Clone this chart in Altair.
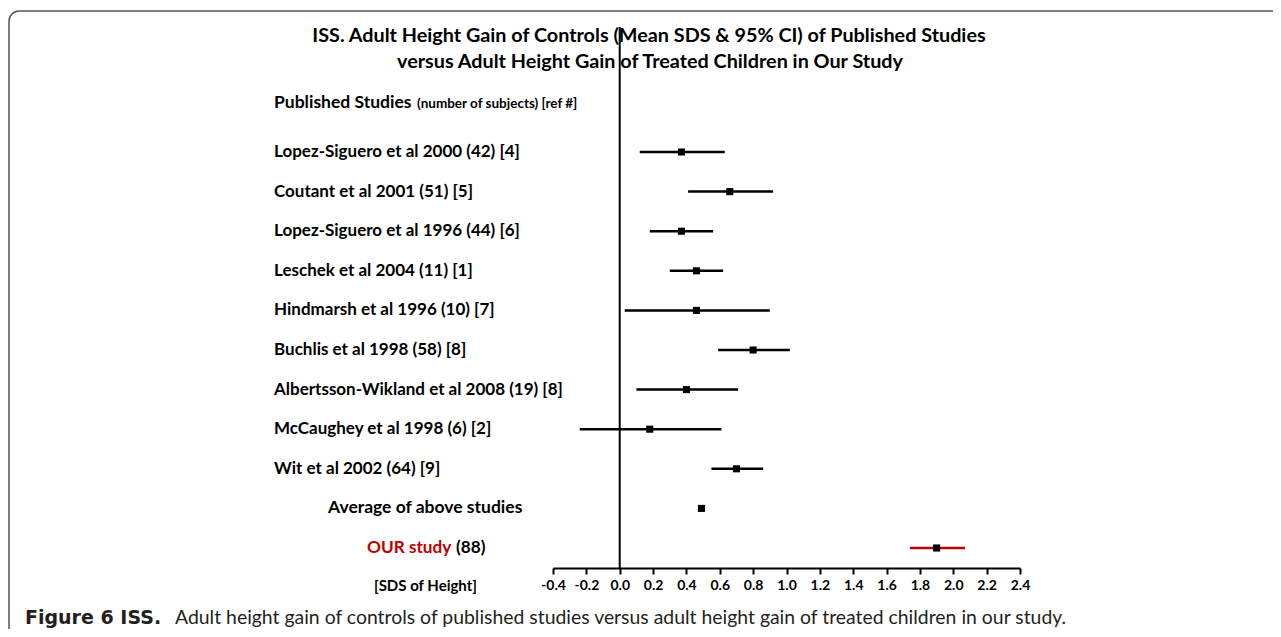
import altair as alt
import pandas as pd

# ---------------- data ----------------
studies = [
    "Lopez-Siguero et al 2000",
    "Coutant et al 2001",
    "Lopez-Siguero et al 1996",
    "Leschek et al 2004",
    "Hindmarsh et al 1996",
    "Buchlis et al 1998",
    "Albertsson-Wikland et al 2008",
    "McCaughey et al 1998",
    "Wit et al 2002",
]
n_subjects = [42, 51, 44, 11, 10, 58, 19, 6, 64]
refs = [4, 5, 6, 1, 7, 8, 8, 2, 9]
means = [0.37, 0.66, 0.37, 0.46, 0.46, 0.80, 0.40, 0.18, 0.70]
ci_low = [0.12, 0.41, 0.18, 0.30, 0.03, 0.59, 0.10, -0.24, 0.55]
ci_high = [0.63, 0.92, 0.56, 0.62, 0.90, 1.02, 0.71, 0.61, 0.86]

average_label = "Average of above studies"
average_mean = 0.49

our_label = "OUR study"
our_n = 88
our_mean = 1.90
our_low = 1.74
our_high = 2.07

tick_values = [-0.4, -0.2, 0.0, 0.2, 0.4, 0.6, 0.8, 1.0, 1.2, 1.4, 1.6, 1.8, 2.0, 2.2, 2.4]

title_lines = [
    "ISS. Adult Height Gain of Controls (Mean SDS & 95% CI) of Published Studies",
    "versus Adult Height Gain  of Treated Children in Our Study",
]
header_main = "Published Studies"
header_sub = "(number of subjects) [ref #]"
axis_title = "[SDS of Height]"
caption_bold = "Figure 6 ISS."
caption_rest = "Adult height gain of controls of published studies versus adult height gain of treated children in our study."

# ---------------- layout ----------------
FONT = "Lato"
PLOT_LEFT = 553
PLOT_TOP = 27
W = 467
H = 541
RED = "#c00000"
LABEL_SIZE = 17

df = pd.DataFrame({
    "label": [f"{s} ({n}) [{r}]" for s, n, r in zip(studies, n_subjects, refs)],
    "row": list(range(1, len(studies) + 1)),
    "mean": means,
    "lo": ci_low,
    "hi": ci_high,
})
avg_df = pd.DataFrame({"label": [average_label], "row": [len(studies) + 1], "mean": [average_mean]})
our_df = pd.DataFrame({
    "label": [our_label], "n": [f"({our_n})"], "row": [len(studies) + 2],
    "mean": [our_mean], "lo": [our_low], "hi": [our_high],
})

x_scale = alt.Scale(domain=[-0.4, 2.4], nice=False, zero=False)
y_scale = alt.Scale(domain=[-2.157, 11.505], nice=False, zero=False, reverse=True)
Y = alt.Y("row:Q", scale=y_scale, axis=None)

x_axis = alt.Axis(
    values=tick_values,
    labelExpr="(datum.value < -0.0001 ? '-' : '') + format(abs(datum.value), '.1f')",
    grid=False,
    domainColor="black", domainWidth=2,
    tickColor="black", tickWidth=2, tickSize=6,
    labelFont=FONT, labelFontSize=14, labelFontWeight="bold", labelColor="black",
    labelPadding=4, labelFlush=False, labelOverlap=False,
    title=axis_title, titleFont=FONT, titleFontSize=15, titleFontWeight="bold",
    titleColor="black", titleX=425 - PLOT_LEFT, titleY=17,
    titleAlign="center", titleBaseline="middle",
)


def XQ(field):
    return alt.X(field, scale=x_scale, axis=x_axis, title=axis_title)


zero_line = alt.Chart(pd.DataFrame({"z": [0.0]})).mark_rule(
    color="black", strokeWidth=2
).encode(x=XQ("z:Q"))

bars = alt.Chart(df).mark_rule(color="black", strokeWidth=2.5).encode(
    x=XQ("lo:Q"), x2="hi:Q", y=Y
)
points = alt.Chart(df).mark_square(color="black", size=50, opacity=1).encode(
    x=XQ("mean:Q"), y=Y
)
labels = alt.Chart(df).mark_text(
    align="left", baseline="middle", font=FONT, fontSize=LABEL_SIZE, fontWeight="bold", color="black"
).encode(x=alt.value(274 - PLOT_LEFT), y=Y, text="label:N")

avg_point = alt.Chart(avg_df).mark_square(color="black", size=50, opacity=1).encode(
    x=XQ("mean:Q"), y=Y
)
avg_label = alt.Chart(avg_df).mark_text(
    align="left", baseline="middle", font=FONT, fontSize=17.5, fontWeight="bold", color="black"
).encode(x=alt.value(328 - PLOT_LEFT), y=Y, text="label:N")

our_bar = alt.Chart(our_df).mark_rule(color=RED, strokeWidth=2.5).encode(
    x=XQ("lo:Q"), x2="hi:Q", y=Y
)
our_point = alt.Chart(our_df).mark_square(color="black", size=50, opacity=1).encode(
    x=XQ("mean:Q"), y=Y
)
our_text = alt.Chart(our_df).mark_text(
    align="left", baseline="middle", font=FONT, fontSize=17.2, fontWeight="bold", color=RED
).encode(x=alt.value(367 - PLOT_LEFT), y=Y, text="label:N")
our_n_text = alt.Chart(our_df).mark_text(
    align="left", baseline="middle", font=FONT, fontSize=17.2, fontWeight="bold", color="black"
).encode(x=alt.value(456 - PLOT_LEFT), y=Y, text="n:N")


def fixed_text(txt, x, y, size, weight="bold", align="left", color="black", font=FONT):
    return alt.Chart(pd.DataFrame({"t": [txt]})).mark_text(
        align=align, baseline="middle", font=font, fontSize=size, fontWeight=weight, color=color
    ).encode(x=alt.value(x), y=alt.value(y), text="t:N")


title1 = fixed_text(title_lines[0], 649 - PLOT_LEFT, 36 - PLOT_TOP, 19.8, align="center")
title2 = fixed_text(title_lines[1], 650 - PLOT_LEFT, 62 - PLOT_TOP, 19.8, align="center")
head1 = fixed_text(header_main, 274 - PLOT_LEFT, 103 - PLOT_TOP, 17.5)
head2 = fixed_text(header_sub, 417 - PLOT_LEFT, 104 - PLOT_TOP, 13.5)
cap1 = fixed_text(caption_bold, 25 - PLOT_LEFT, 618 - PLOT_TOP, 19, color="#231f20", font="DejaVu Sans")
cap2 = fixed_text(caption_rest, 175 - PLOT_LEFT, 618 - PLOT_TOP, 19.4, weight="normal", color="#231f20")

frame = alt.Chart(pd.DataFrame({"a": [0]})).mark_rect(
    filled=False, stroke="#555555", strokeWidth=1.5, cornerRadius=10
).encode(
    x=alt.value(9 - PLOT_LEFT), x2=alt.value(1310 - PLOT_LEFT),
    y=alt.value(11 - PLOT_TOP), y2=alt.value(680 - PLOT_TOP),
)

chart = alt.layer(
    frame, title1, title2, head1, head2,
    zero_line, bars, points, labels,
    avg_point, avg_label,
    our_bar, our_point, our_text, our_n_text,
    cap1, cap2,
).properties(
    width=W, height=H,
    autosize=alt.AutoSizeParams(type="none"),
    padding={"left": PLOT_LEFT - 8, "top": PLOT_TOP - 8, "right": 1265 - (PLOT_LEFT - 8) - W, "bottom": 621 - (PLOT_TOP - 8) - H},
    background="white",
).configure_view(stroke=None)

chart.save("out.html", embed_options={"renderer": "svg", "actions": False})
